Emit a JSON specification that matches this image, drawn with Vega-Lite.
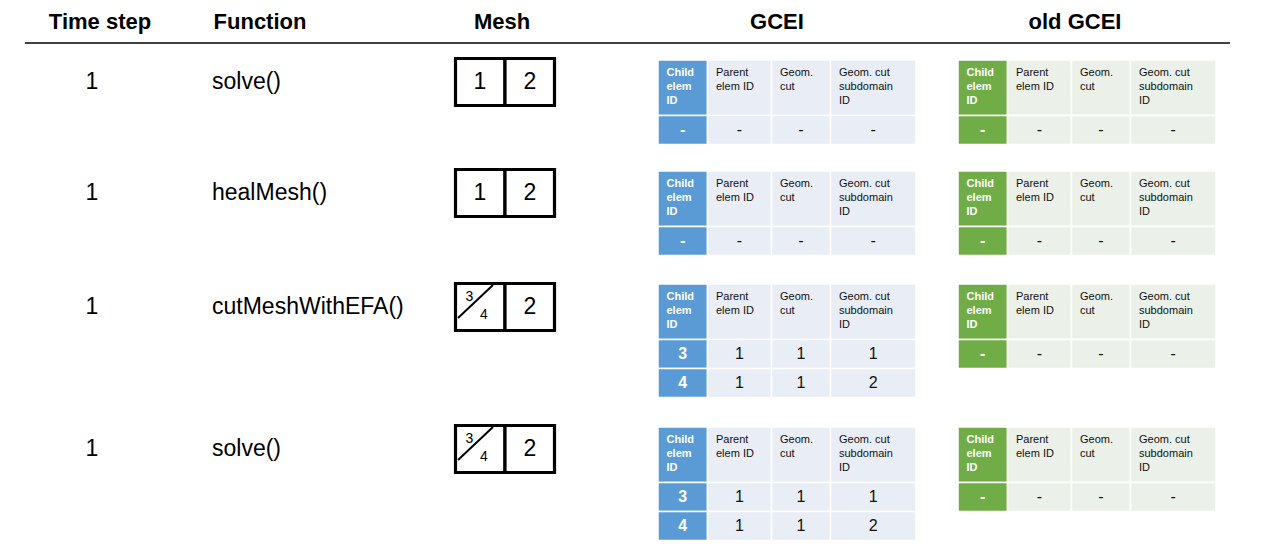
{
  "$schema": "https://vega.github.io/schema/vega-lite/v6.json",
  "width": 1276,
  "height": 552,
  "autosize": "none",
  "padding": 0,
  "config": {"view": {"stroke": null}, "text": {"font": "Liberation Sans"}},
  "datasets": {
    "titles": [
      {"t": "Time step", "x": 100, "y": 22},
      {"t": "Function", "x": 260, "y": 22},
      {"t": "Mesh", "x": 502, "y": 22},
      {"t": "GCEI", "x": 777, "y": 22},
      {"t": "old GCEI", "x": 1075, "y": 22}
    ],
    "topline": [{"x": 25, "x2": 1230, "y": 43}],
    "steps": [
      {"k": "step", "t": "1", "x": 92, "y": 82},
      {"k": "func", "t": "solve()", "x": 212, "y": 82},
      {"k": "step", "t": "1", "x": 92, "y": 193},
      {"k": "func", "t": "healMesh()", "x": 212, "y": 193},
      {"k": "step", "t": "1", "x": 92, "y": 307},
      {"k": "func", "t": "cutMeshWithEFA()", "x": 212, "y": 307},
      {"k": "step", "t": "1", "x": 92, "y": 449},
      {"k": "func", "t": "solve()", "x": 212, "y": 449}
    ],
    "mesh": [
      {"x": 455.5, "x2": 505, "y": 58.5, "y2": 105.5},
      {"x": 505, "x2": 554.5, "y": 58.5, "y2": 105.5},
      {"x": 455.5, "x2": 505, "y": 169.5, "y2": 216.5},
      {"x": 505, "x2": 554.5, "y": 169.5, "y2": 216.5},
      {"x": 455.5, "x2": 505, "y": 283.5, "y2": 330.5},
      {"x": 505, "x2": 554.5, "y": 283.5, "y2": 330.5},
      {"x": 455.5, "x2": 505, "y": 425.5, "y2": 472.5},
      {"x": 505, "x2": 554.5, "y": 425.5, "y2": 472.5}
    ],
    "diag": [
      {"x": 493, "y": 285, "x2": 458, "y2": 318},
      {"x": 493, "y": 427, "x2": 458, "y2": 460}
    ],
    "meshTxt": [
      {"t": "1", "k": "whole", "x": 480, "y": 82},
      {"t": "2", "k": "whole", "x": 530, "y": 82},
      {"t": "1", "k": "whole", "x": 480, "y": 193},
      {"t": "2", "k": "whole", "x": 530, "y": 193},
      {"t": "3", "k": "part", "x": 469.5, "y": 296.5},
      {"t": "4", "k": "part", "x": 484, "y": 314.5},
      {"t": "2", "k": "whole", "x": 530, "y": 307},
      {"t": "3", "k": "part", "x": 469.5, "y": 438.5},
      {"t": "4", "k": "part", "x": 484, "y": 456.5},
      {"t": "2", "k": "whole", "x": 530, "y": 449}
    ],
    "cells": [
      {"p": "gk", "h": 1, "x": 658, "x2": 707.5, "y": 60, "y2": 115.5, "t": "Child\nelem\nID"},
      {"p": "gc", "h": 1, "x": 707.5, "x2": 771.5, "y": 60, "y2": 115.5, "t": "Parent\nelem ID"},
      {"p": "gc", "h": 1, "x": 771.5, "x2": 830.5, "y": 60, "y2": 115.5, "t": "Geom.\ncut"},
      {"p": "gc", "h": 1, "x": 830.5, "x2": 916, "y": 60, "y2": 115.5, "t": "Geom. cut\nsubdomain\nID"},
      {"p": "gk", "h": 0, "x": 658, "x2": 707.5, "y": 115.5, "y2": 144.5},
      {"p": "gc", "h": 0, "x": 707.5, "x2": 771.5, "y": 115.5, "y2": 144.5},
      {"p": "gc", "h": 0, "x": 771.5, "x2": 830.5, "y": 115.5, "y2": 144.5},
      {"p": "gc", "h": 0, "x": 830.5, "x2": 916, "y": 115.5, "y2": 144.5},
      {"p": "ok", "h": 1, "x": 958, "x2": 1007.5, "y": 60, "y2": 115.5, "t": "Child\nelem\nID"},
      {"p": "oc", "h": 1, "x": 1007.5, "x2": 1071.5, "y": 60, "y2": 115.5, "t": "Parent\nelem ID"},
      {"p": "oc", "h": 1, "x": 1071.5, "x2": 1130.5, "y": 60, "y2": 115.5, "t": "Geom.\ncut"},
      {"p": "oc", "h": 1, "x": 1130.5, "x2": 1216, "y": 60, "y2": 115.5, "t": "Geom. cut\nsubdomain\nID"},
      {"p": "ok", "h": 0, "x": 958, "x2": 1007.5, "y": 115.5, "y2": 144.5},
      {"p": "oc", "h": 0, "x": 1007.5, "x2": 1071.5, "y": 115.5, "y2": 144.5},
      {"p": "oc", "h": 0, "x": 1071.5, "x2": 1130.5, "y": 115.5, "y2": 144.5},
      {"p": "oc", "h": 0, "x": 1130.5, "x2": 1216, "y": 115.5, "y2": 144.5},

      {"p": "gk", "h": 1, "x": 658, "x2": 707.5, "y": 171, "y2": 226.5, "t": "Child\nelem\nID"},
      {"p": "gc", "h": 1, "x": 707.5, "x2": 771.5, "y": 171, "y2": 226.5, "t": "Parent\nelem ID"},
      {"p": "gc", "h": 1, "x": 771.5, "x2": 830.5, "y": 171, "y2": 226.5, "t": "Geom.\ncut"},
      {"p": "gc", "h": 1, "x": 830.5, "x2": 916, "y": 171, "y2": 226.5, "t": "Geom. cut\nsubdomain\nID"},
      {"p": "gk", "h": 0, "x": 658, "x2": 707.5, "y": 226.5, "y2": 255.5},
      {"p": "gc", "h": 0, "x": 707.5, "x2": 771.5, "y": 226.5, "y2": 255.5},
      {"p": "gc", "h": 0, "x": 771.5, "x2": 830.5, "y": 226.5, "y2": 255.5},
      {"p": "gc", "h": 0, "x": 830.5, "x2": 916, "y": 226.5, "y2": 255.5},
      {"p": "ok", "h": 1, "x": 958, "x2": 1007.5, "y": 171, "y2": 226.5, "t": "Child\nelem\nID"},
      {"p": "oc", "h": 1, "x": 1007.5, "x2": 1071.5, "y": 171, "y2": 226.5, "t": "Parent\nelem ID"},
      {"p": "oc", "h": 1, "x": 1071.5, "x2": 1130.5, "y": 171, "y2": 226.5, "t": "Geom.\ncut"},
      {"p": "oc", "h": 1, "x": 1130.5, "x2": 1216, "y": 171, "y2": 226.5, "t": "Geom. cut\nsubdomain\nID"},
      {"p": "ok", "h": 0, "x": 958, "x2": 1007.5, "y": 226.5, "y2": 255.5},
      {"p": "oc", "h": 0, "x": 1007.5, "x2": 1071.5, "y": 226.5, "y2": 255.5},
      {"p": "oc", "h": 0, "x": 1071.5, "x2": 1130.5, "y": 226.5, "y2": 255.5},
      {"p": "oc", "h": 0, "x": 1130.5, "x2": 1216, "y": 226.5, "y2": 255.5},

      {"p": "gk", "h": 1, "x": 658, "x2": 707.5, "y": 284, "y2": 339.5, "t": "Child\nelem\nID"},
      {"p": "gc", "h": 1, "x": 707.5, "x2": 771.5, "y": 284, "y2": 339.5, "t": "Parent\nelem ID"},
      {"p": "gc", "h": 1, "x": 771.5, "x2": 830.5, "y": 284, "y2": 339.5, "t": "Geom.\ncut"},
      {"p": "gc", "h": 1, "x": 830.5, "x2": 916, "y": 284, "y2": 339.5, "t": "Geom. cut\nsubdomain\nID"},
      {"p": "gk", "h": 0, "x": 658, "x2": 707.5, "y": 339.5, "y2": 368.5},
      {"p": "gc", "h": 0, "x": 707.5, "x2": 771.5, "y": 339.5, "y2": 368.5},
      {"p": "gc", "h": 0, "x": 771.5, "x2": 830.5, "y": 339.5, "y2": 368.5},
      {"p": "gc", "h": 0, "x": 830.5, "x2": 916, "y": 339.5, "y2": 368.5},
      {"p": "gk", "h": 0, "x": 658, "x2": 707.5, "y": 368.5, "y2": 397.5},
      {"p": "gc", "h": 0, "x": 707.5, "x2": 771.5, "y": 368.5, "y2": 397.5},
      {"p": "gc", "h": 0, "x": 771.5, "x2": 830.5, "y": 368.5, "y2": 397.5},
      {"p": "gc", "h": 0, "x": 830.5, "x2": 916, "y": 368.5, "y2": 397.5},
      {"p": "ok", "h": 1, "x": 958, "x2": 1007.5, "y": 284, "y2": 339.5, "t": "Child\nelem\nID"},
      {"p": "oc", "h": 1, "x": 1007.5, "x2": 1071.5, "y": 284, "y2": 339.5, "t": "Parent\nelem ID"},
      {"p": "oc", "h": 1, "x": 1071.5, "x2": 1130.5, "y": 284, "y2": 339.5, "t": "Geom.\ncut"},
      {"p": "oc", "h": 1, "x": 1130.5, "x2": 1216, "y": 284, "y2": 339.5, "t": "Geom. cut\nsubdomain\nID"},
      {"p": "ok", "h": 0, "x": 958, "x2": 1007.5, "y": 339.5, "y2": 368.5},
      {"p": "oc", "h": 0, "x": 1007.5, "x2": 1071.5, "y": 339.5, "y2": 368.5},
      {"p": "oc", "h": 0, "x": 1071.5, "x2": 1130.5, "y": 339.5, "y2": 368.5},
      {"p": "oc", "h": 0, "x": 1130.5, "x2": 1216, "y": 339.5, "y2": 368.5},

      {"p": "gk", "h": 1, "x": 658, "x2": 707.5, "y": 427, "y2": 482.5, "t": "Child\nelem\nID"},
      {"p": "gc", "h": 1, "x": 707.5, "x2": 771.5, "y": 427, "y2": 482.5, "t": "Parent\nelem ID"},
      {"p": "gc", "h": 1, "x": 771.5, "x2": 830.5, "y": 427, "y2": 482.5, "t": "Geom.\ncut"},
      {"p": "gc", "h": 1, "x": 830.5, "x2": 916, "y": 427, "y2": 482.5, "t": "Geom. cut\nsubdomain\nID"},
      {"p": "gk", "h": 0, "x": 658, "x2": 707.5, "y": 482.5, "y2": 511.5},
      {"p": "gc", "h": 0, "x": 707.5, "x2": 771.5, "y": 482.5, "y2": 511.5},
      {"p": "gc", "h": 0, "x": 771.5, "x2": 830.5, "y": 482.5, "y2": 511.5},
      {"p": "gc", "h": 0, "x": 830.5, "x2": 916, "y": 482.5, "y2": 511.5},
      {"p": "gk", "h": 0, "x": 658, "x2": 707.5, "y": 511.5, "y2": 540.5},
      {"p": "gc", "h": 0, "x": 707.5, "x2": 771.5, "y": 511.5, "y2": 540.5},
      {"p": "gc", "h": 0, "x": 771.5, "x2": 830.5, "y": 511.5, "y2": 540.5},
      {"p": "gc", "h": 0, "x": 830.5, "x2": 916, "y": 511.5, "y2": 540.5},
      {"p": "ok", "h": 1, "x": 958, "x2": 1007.5, "y": 427, "y2": 482.5, "t": "Child\nelem\nID"},
      {"p": "oc", "h": 1, "x": 1007.5, "x2": 1071.5, "y": 427, "y2": 482.5, "t": "Parent\nelem ID"},
      {"p": "oc", "h": 1, "x": 1071.5, "x2": 1130.5, "y": 427, "y2": 482.5, "t": "Geom.\ncut"},
      {"p": "oc", "h": 1, "x": 1130.5, "x2": 1216, "y": 427, "y2": 482.5, "t": "Geom. cut\nsubdomain\nID"},
      {"p": "ok", "h": 0, "x": 958, "x2": 1007.5, "y": 482.5, "y2": 511.5},
      {"p": "oc", "h": 0, "x": 1007.5, "x2": 1071.5, "y": 482.5, "y2": 511.5},
      {"p": "oc", "h": 0, "x": 1071.5, "x2": 1130.5, "y": 482.5, "y2": 511.5},
      {"p": "oc", "h": 0, "x": 1130.5, "x2": 1216, "y": 482.5, "y2": 511.5}
    ],
    "vals": [
      {"p": "gk", "x": 682.75, "y": 130, "t": "-"},
      {"p": "gc", "x": 739.5, "y": 130, "t": "-"},
      {"p": "gc", "x": 801, "y": 130, "t": "-"},
      {"p": "gc", "x": 873.25, "y": 130, "t": "-"},
      {"p": "ok", "x": 982.75, "y": 130, "t": "-"},
      {"p": "oc", "x": 1039.5, "y": 130, "t": "-"},
      {"p": "oc", "x": 1101, "y": 130, "t": "-"},
      {"p": "oc", "x": 1173.25, "y": 130, "t": "-"},
      {"p": "gk", "x": 682.75, "y": 241, "t": "-"},
      {"p": "gc", "x": 739.5, "y": 241, "t": "-"},
      {"p": "gc", "x": 801, "y": 241, "t": "-"},
      {"p": "gc", "x": 873.25, "y": 241, "t": "-"},
      {"p": "ok", "x": 982.75, "y": 241, "t": "-"},
      {"p": "oc", "x": 1039.5, "y": 241, "t": "-"},
      {"p": "oc", "x": 1101, "y": 241, "t": "-"},
      {"p": "oc", "x": 1173.25, "y": 241, "t": "-"},
      {"p": "gk", "x": 682.75, "y": 354, "t": "3"},
      {"p": "gc", "x": 739.5, "y": 354, "t": "1"},
      {"p": "gc", "x": 801, "y": 354, "t": "1"},
      {"p": "gc", "x": 873.25, "y": 354, "t": "1"},
      {"p": "gk", "x": 682.75, "y": 383, "t": "4"},
      {"p": "gc", "x": 739.5, "y": 383, "t": "1"},
      {"p": "gc", "x": 801, "y": 383, "t": "1"},
      {"p": "gc", "x": 873.25, "y": 383, "t": "2"},
      {"p": "ok", "x": 982.75, "y": 354, "t": "-"},
      {"p": "oc", "x": 1039.5, "y": 354, "t": "-"},
      {"p": "oc", "x": 1101, "y": 354, "t": "-"},
      {"p": "oc", "x": 1173.25, "y": 354, "t": "-"},
      {"p": "gk", "x": 682.75, "y": 497, "t": "3"},
      {"p": "gc", "x": 739.5, "y": 497, "t": "1"},
      {"p": "gc", "x": 801, "y": 497, "t": "1"},
      {"p": "gc", "x": 873.25, "y": 497, "t": "1"},
      {"p": "gk", "x": 682.75, "y": 526, "t": "4"},
      {"p": "gc", "x": 739.5, "y": 526, "t": "1"},
      {"p": "gc", "x": 801, "y": 526, "t": "1"},
      {"p": "gc", "x": 873.25, "y": 526, "t": "2"},
      {"p": "ok", "x": 982.75, "y": 497, "t": "-"},
      {"p": "oc", "x": 1039.5, "y": 497, "t": "-"},
      {"p": "oc", "x": 1101, "y": 497, "t": "-"},
      {"p": "oc", "x": 1173.25, "y": 497, "t": "-"}
    ]
  },
  "encoding": {
    "x": {"field": "x", "type": "quantitative", "scale": {"domain": [0, 1276], "nice": false, "zero": false}, "axis": null},
    "y": {"field": "y", "type": "quantitative", "scale": {"domain": [0, 552], "nice": false, "zero": false, "reverse": true}, "axis": null}
  },
  "layer": [
    {
      "data": {"name": "titles"},
      "mark": {"type": "text", "fontSize": 22, "fontWeight": "bold", "align": "center", "baseline": "middle", "color": "#000"},
      "encoding": {"text": {"field": "t"}}
    },
    {
      "data": {"name": "topline"},
      "mark": {"type": "rule", "color": "#000", "strokeWidth": 1.3},
      "encoding": {"x2": {"field": "x2"}}
    },
    {
      "data": {"name": "steps"},
      "transform": [{"filter": "datum.k == 'step'"}],
      "mark": {"type": "text", "fontSize": 23, "align": "center", "baseline": "middle", "color": "#000"},
      "encoding": {"text": {"field": "t"}}
    },
    {
      "data": {"name": "steps"},
      "transform": [{"filter": "datum.k == 'func'"}],
      "mark": {"type": "text", "fontSize": 23, "align": "left", "baseline": "middle", "color": "#000"},
      "encoding": {"text": {"field": "t"}}
    },
    {
      "data": {"name": "mesh"},
      "mark": {"type": "rect", "fill": "#fff", "stroke": "#000", "strokeWidth": 3.2},
      "encoding": {"x2": {"field": "x2"}, "y2": {"field": "y2"}}
    },
    {
      "data": {"name": "diag"},
      "mark": {"type": "rule", "color": "#000", "strokeWidth": 2},
      "encoding": {"x2": {"field": "x2"}, "y2": {"field": "y2"}}
    },
    {
      "data": {"name": "meshTxt"},
      "transform": [{"filter": "datum.k == 'whole'"}],
      "mark": {"type": "text", "fontSize": 23, "align": "center", "baseline": "middle", "color": "#000"},
      "encoding": {"text": {"field": "t"}}
    },
    {
      "data": {"name": "meshTxt"},
      "transform": [{"filter": "datum.k == 'part'"}],
      "mark": {"type": "text", "fontSize": 14, "align": "center", "baseline": "middle", "color": "#000"},
      "encoding": {"text": {"field": "t"}}
    },
    {
      "data": {"name": "cells"},
      "mark": {"type": "rect", "stroke": "#fff", "strokeWidth": 1.5},
      "encoding": {
        "x2": {"field": "x2"},
        "y2": {"field": "y2"},
        "color": {"field": "p", "type": "nominal", "legend": null,
          "scale": {"domain": ["gk", "gc", "ok", "oc"], "range": ["#5b9bd5", "#e9edf5", "#70ad47", "#ebf0e8"]}}
      }
    },
    {
      "data": {"name": "cells"},
      "transform": [{"filter": "datum.h == 1 && (datum.p == 'gk' || datum.p == 'ok')"}],
      "mark": {"type": "text", "fontSize": 11, "fontWeight": "bold", "align": "left", "baseline": "alphabetic", "dx": 8.5, "dy": 16, "lineHeight": 14, "lineBreak": "\n", "color": "#fff"},
      "encoding": {"text": {"field": "t"}}
    },
    {
      "data": {"name": "cells"},
      "transform": [{"filter": "datum.h == 1 && (datum.p == 'gc' || datum.p == 'oc')"}],
      "mark": {"type": "text", "fontSize": 11, "align": "left", "baseline": "alphabetic", "dx": 8.5, "dy": 16, "lineHeight": 14, "lineBreak": "\n", "color": "#111"},
      "encoding": {"text": {"field": "t"}}
    },
    {
      "data": {"name": "vals"},
      "transform": [{"filter": "datum.p == 'gk' || datum.p == 'ok'"}],
      "mark": {"type": "text", "fontSize": 16, "fontWeight": "bold", "align": "center", "baseline": "middle", "color": "#fff"},
      "encoding": {"text": {"field": "t"}}
    },
    {
      "data": {"name": "vals"},
      "transform": [{"filter": "datum.p == 'gc' || datum.p == 'oc'"}],
      "mark": {"type": "text", "fontSize": 16, "align": "center", "baseline": "middle", "color": "#111"},
      "encoding": {"text": {"field": "t"}}
    }
  ]
}
